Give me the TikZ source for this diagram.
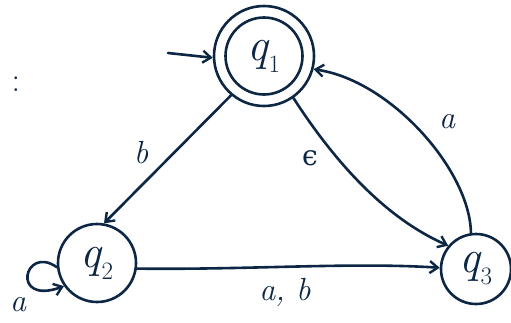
\documentclass[tikz,border=0pt]{standalone}
\usepackage{fontspec}
\usetikzlibrary{arrows.meta}
\newfontfamily\gkfont{DejaVu Serif}
\definecolor{ink}{RGB}{12,38,68}
\newcommand{\qlab}[1]{{\fontsize{46}{46}\selectfont\itshape q\raisebox{-0.26em}{\fontsize{25}{25}\selectfont\upshape #1}}}
\begin{document}
\begin{tikzpicture}[x=1pt,y=-1pt,
  state/.style={circle, draw=ink, line width=2.6pt, inner sep=0pt, text=ink},
  lbl/.style={text=ink, inner sep=0pt, font=\fontsize{32}{32}\selectfont\itshape},
  arr/.style={draw=ink, line width=2.6pt, -{Straight Barb[length=8pt,width=12pt,line width=2.4pt]}, line cap=round}]
\useasboundingbox (0,0) rectangle (511,322);
\node[state, minimum size=100pt] (q1) at (264,56) {};
\node[state, minimum size=77pt] (q1i) at (264,56) {\qlab{1}};
\node[state, minimum size=78pt] (q2) at (97,263) {\qlab{2}};
\node[state, minimum size=70pt] (q3) at (476,269) {\qlab{3}};
\coordinate (s) at (168,53);
\draw[arr] (s) -- (q1.182);
\draw[arr] (q1.-130) -- (q2.80);
\draw[arr] (q1.-55) .. controls (340,170) and (390,220) .. (q3.140);
\draw[arr] (q3.98) .. controls (470,170) and (390,80) .. (q1.-15);
\draw[arr] (q2.-8) .. controls (250,270) and (350,262) .. (q3.178);
\draw[arr] (q2.186) .. controls (24,244) and (10,306) .. (q2.215);
\node[lbl] (lb) at (141,153) {b};
\node[lbl, font=\fontsize{28}{28}\selectfont\gkfont] (le) at (310,158) {ϵ};
\node[lbl] (la) at (447,122) {a};
\node[lbl] (lab) at (285,292) {a, b};
\node[lbl] (ll) at (18,305) {a};
\node[lbl, font=\fontsize{34}{34}\selectfont] (c) at (16,84) {:};
\end{tikzpicture}
\end{document}
